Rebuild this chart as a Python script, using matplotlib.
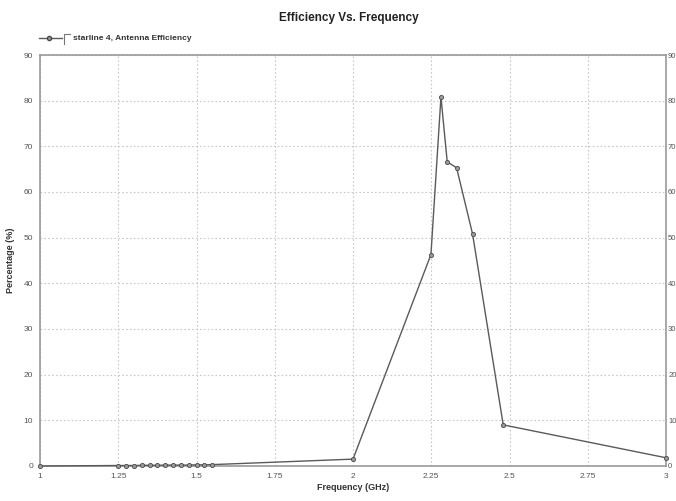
import matplotlib
matplotlib.use('Agg')
from matplotlib import pyplot as plt

plt.rcParams['font.family'] = ['Liberation Sans', 'DejaVu Sans']

freq = [1.0, 1.25, 1.275, 1.3, 1.325, 1.35, 1.375, 1.4, 1.425, 1.45, 1.475, 1.5, 1.525, 1.55,
        2.0, 2.249, 2.281, 2.301, 2.331, 2.382, 2.48, 3.0]
eff = [0.0, 0.1, 0.1, 0.1, 0.15, 0.15, 0.15, 0.2, 0.2, 0.2, 0.2, 0.25, 0.25, 0.3,
       1.5, 46.3, 80.8, 66.6, 65.3, 50.8, 9.0, 1.8]
xticks = [1, 1.25, 1.5, 1.75, 2, 2.25, 2.5, 2.75, 3]
xticklabels = ['1', '1.25', '1.5', '1.75', '2', '2.25', '2.5', '2.75', '3']
yticks = [0, 10, 20, 30, 40, 50, 60, 70, 80, 90]

fig = plt.figure(figsize=(6.76, 5.01), dpi=100)
ax = fig.add_axes([0.0592, 0.0699, 0.926, 0.8203])

line_col = '#5a5a5a'
ax.plot(freq, eff, color=line_col, linewidth=1.0, marker='o', markersize=3,
        markerfacecolor='#9a9a9a', markeredgecolor='#4a4a4a', markeredgewidth=0.6,
        clip_on=False, zorder=3)

ax.set_xlim(1, 3)
ax.set_ylim(0, 90)
ax.set_xticks(xticks)
ax.set_xticklabels(xticklabels)
ax.set_yticks(yticks)
ax.grid(True, color='#c8c8c8', linestyle=(0, (1.5, 2)), linewidth=0.8)
for s in ax.spines.values():
    s.set_color('#999999')
    s.set_linewidth(1.2)
ax.tick_params(length=0, labelsize=6, colors='#555555', pad=5)

ax2 = ax.twinx()
ax2.set_ylim(0, 90)
ax2.set_yticks(yticks)
ax2.tick_params(length=0, labelsize=5.5, colors='#555555', pad=1.5)
for s in ax2.spines.values():
    s.set_visible(False)

ax.set_xlabel('Frequency (GHz)', fontsize=6.5, fontweight='bold', color='#333333', labelpad=2)
ax.set_ylabel('Percentage (%)', fontsize=6.5, fontweight='bold', color='#333333', labelpad=6)
fig.text(0.516, 0.964, 'Efficiency Vs. Frequency', ha='center', va='center',
         fontsize=8.5, fontweight='bold', color='#222222')

# hand-made legend, like the original
leg_y = 0.924
fig.add_artist(plt.Line2D([0.057, 0.092], [leg_y, leg_y], color=line_col, linewidth=1.0,
                          transform=fig.transFigure))
fig.add_artist(plt.Line2D([0.073], [leg_y], color=line_col, marker='o', markersize=3,
                          markerfacecolor='#9a9a9a', markeredgecolor='#4a4a4a',
                          transform=fig.transFigure))
fig.add_artist(plt.Line2D([0.094, 0.094, 0.103], [leg_y - 0.012, leg_y + 0.008, leg_y + 0.008],
                          color='#777777', linewidth=0.8, transform=fig.transFigure))
fig.text(0.108, leg_y, 'starline 4, Antenna Efficiency', ha='left', va='center',
         fontsize=6, fontweight='bold', color='#333333')

fig.savefig('out.png', dpi=100)
